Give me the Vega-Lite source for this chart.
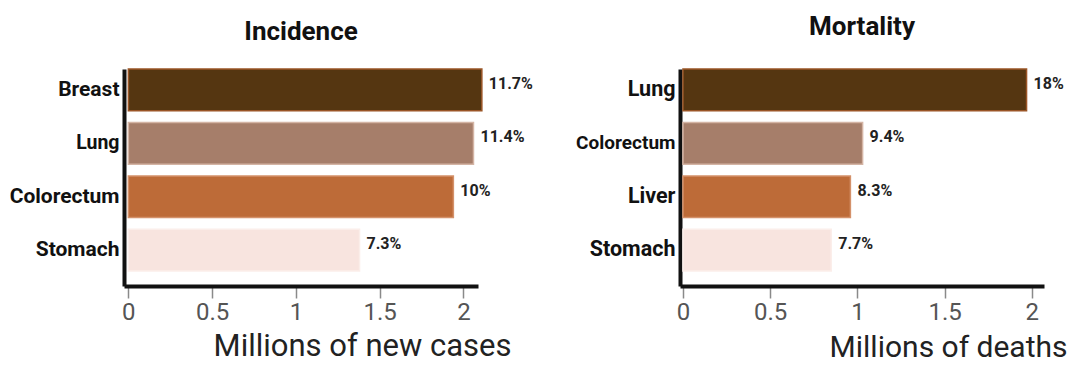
{
  "$schema": "https://vega.github.io/schema/vega-lite/v6.json",
  "padding": {"left": 9, "top": 14, "right": 0, "bottom": 0},
  "background": "white",
  "datasets": {
    "incidence": [
      {"site": "Breast", "value": 2.11, "share": "11.7%"},
      {"site": "Lung", "value": 2.06, "share": "11.4%"},
      {"site": "Colorectum", "value": 1.94, "share": "10%"},
      {"site": "Stomach", "value": 1.38, "share": "7.3%"}
    ],
    "mortality": [
      {"site": "Lung", "value": 1.97, "share": "18%"},
      {"site": "Colorectum", "value": 1.03, "share": "9.4%"},
      {"site": "Liver", "value": 0.96, "share": "8.3%"},
      {"site": "Stomach", "value": 0.85, "share": "7.7%"}
    ]
  },
  "hconcat": [
    {
      "data": {"name": "incidence"},
      "width": 354,
      "height": 217,
      "title": {"text": "Incidence", "frame": "group", "offset": 23, "dx": 0},
      "encoding": {
        "y": {
          "field": "site", "type": "nominal", "sort": null,
          "scale": {"paddingInner": 0.22, "paddingOuter": 0.14, "align": 0},
          "axis": {
            "title": null, "ticks": false, "labelPadding": 5,
            "labelFontSize": {"condition": {"test": "datum.value == 'Lung'", "value": 19.5}, "value": 21}
          }
        },
        "x": {
          "field": "value", "type": "quantitative",
          "scale": {"domain": [-0.026, 2.087], "nice": false, "zero": false},
          "axis": {
            "title": "Millions of new cases", "values": [0, 0.5, 1, 1.5, 2], "format": "~g",
            "titleX": 387, "titleY": 69
          }
        }
      },
      "layer": [
        {
          "mark": {"type": "bar", "strokeWidth": 1.5},
          "encoding": {
            "x2": {"datum": 0},
            "fill": {"field": "site", "type": "nominal", "legend": null,
              "scale": {"domain": ["Breast", "Lung", "Colorectum", "Stomach"], "range": ["#553611", "#a67e6a", "#bd6b38", "#f8e4df"]}},
            "stroke": {"field": "site", "type": "nominal", "legend": null,
              "scale": {"domain": ["Breast", "Lung", "Colorectum", "Stomach"], "range": ["#9a5526", "#d4b4a4", "#d4916a", "#fbeeea"]}}
          }
        },
        {
          "mark": {"type": "text", "align": "left", "baseline": "middle", "dx": 7, "dy": -6, "font": "Roboto", "fontWeight": "bold", "fontSize": 16, "color": "#222"},
          "encoding": {"text": {"field": "share"}}
        }
      ]
    },
    {
      "data": {"name": "mortality"},
      "width": 364,
      "height": 217,
      "title": {"text": "Mortality", "frame": "group", "offset": 28, "dx": 0},
      "encoding": {
        "y": {
          "field": "site", "type": "nominal", "sort": null,
          "scale": {"paddingInner": 0.22, "paddingOuter": 0.14, "align": 0},
          "axis": {
            "title": null, "ticks": false, "labelPadding": 5,
            "labelFontSize": {"condition": {"test": "datum.value == 'Colorectum'", "value": 19}, "value": 21.5}
          }
        },
        "x": {
          "field": "value", "type": "quantitative",
          "scale": {"domain": [-0.017, 2.07], "nice": false, "zero": false},
          "axis": {
            "title": "Millions of deaths", "values": [0, 0.5, 1, 1.5, 2], "format": "~g",
            "titleX": 387, "titleY": 70, "titleFontSize": 30
          }
        }
      },
      "layer": [
        {
          "mark": {"type": "bar", "strokeWidth": 1.5},
          "encoding": {
            "x2": {"datum": 0},
            "fill": {"field": "site", "type": "nominal", "legend": null,
              "scale": {"domain": ["Lung", "Colorectum", "Liver", "Stomach"], "range": ["#553611", "#a67e6a", "#bd6b38", "#f8e4df"]}},
            "stroke": {"field": "site", "type": "nominal", "legend": null,
              "scale": {"domain": ["Lung", "Colorectum", "Liver", "Stomach"], "range": ["#9a5526", "#d4b4a4", "#d4916a", "#fbeeea"]}}
          }
        },
        {
          "mark": {"type": "text", "align": "left", "baseline": "middle", "dx": 7, "dy": -6, "font": "Roboto", "fontWeight": "bold", "fontSize": 16, "color": "#222"},
          "encoding": {"text": {"field": "share"}}
        }
      ]
    }
  ],
  "spacing": 202,
  "bounds": "flush",
  "resolve": {"scale": {"fill": "independent", "stroke": "independent", "y": "independent", "x": "independent"}},
  "config": {
    "view": {"stroke": null},
    "font": "Roboto",
    "title": {"font": "Roboto", "fontSize": 26, "fontWeight": "bold", "color": "#111", "anchor": "middle"},
    "axis": {
      "domainColor": "#111", "domainWidth": 4, "grid": false,
      "labelFont": "Roboto", "titleFont": "Roboto"
    },
    "axisY": {"labelFontWeight": "bold", "labelColor": "#111"},
    "axisX": {
      "tickColor": "#8a8a8a", "tickWidth": 1.5, "tickSize": 12,
      "labelFontSize": 24, "labelColor": "#555", "labelPadding": 2, "labelFontWeight": "normal",
      "titleFontSize": 31, "titleFontWeight": "normal", "titleColor": "#222",
      "titleAlign": "right", "titleBaseline": "alphabetic", "titleAnchor": null
    }
  }
}
